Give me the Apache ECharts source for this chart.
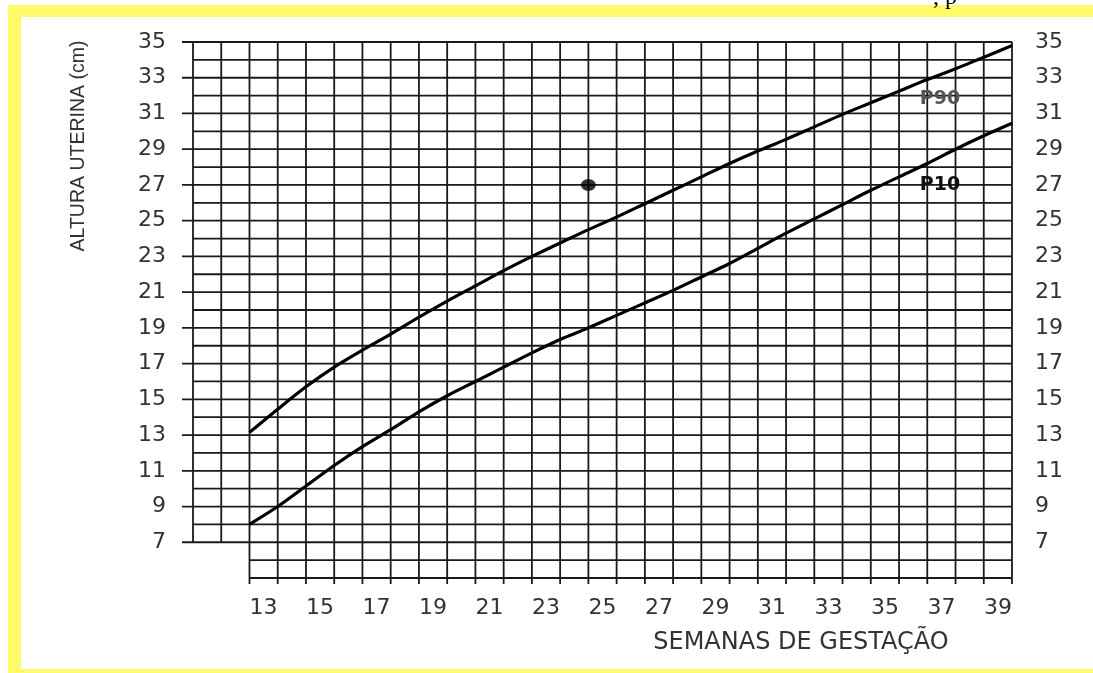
<!DOCTYPE html>
<html>
<head>
<meta charset="utf-8">
<script src="https://cdn.jsdelivr.net/npm/echarts@6/dist/echarts.min.js"></script>
<style>
  html, body { margin: 0; padding: 0; background: #ffffff; }
  #chart { width: 1093px; height: 673px; }
</style>
</head>
<body>
<div id="chart"></div>
<script>
// ---- data ----
const weekColumns = ['11','12','13','14','15','16','17','18','19','20','21','22','23','24','25',
                     '26','27','28','29','30','31','32','33','34','35','36','37','38','39'];
const xTickLabels = ['13','15','17','19','21','23','25','27','29','31','33','35','37','39'];
const yTickLabels = [7, 9, 11, 13, 15, 17, 19, 21, 23, 25, 27, 29, 31, 33, 35];

const weeks = [13, 14, 15, 16, 17, 18, 19, 20, 21, 22, 23, 24, 25, 26,
               27, 28, 29, 30, 31, 32, 33, 34, 35, 36, 37, 38, 39, 40];
const p90 = [13.15, 14.45, 15.7, 16.8, 17.75, 18.65, 19.6, 20.5, 21.35, 22.2, 23.0, 23.75, 24.5, 25.2,
             25.95, 26.7, 27.45, 28.2, 28.9, 29.55, 30.25, 30.95, 31.6, 32.25, 32.9, 33.5, 34.15, 34.8];
const p10 = [8.0, 9.0, 10.15, 11.3, 12.35, 13.3, 14.3, 15.2, 16.0, 16.8, 17.6, 18.35, 19.0, 19.7,
             20.4, 21.1, 21.85, 22.6, 23.45, 24.3, 25.1, 25.9, 26.7, 27.45, 28.2, 29.0, 29.75, 30.45];
const measureWeek = [25];
const measureHeight = [27];

const xTitle = 'SEMANAS DE GESTAÇÃO';
const yTitle = 'ALTURA UTERINA (cm)';

// ---- grid structure of the chart paper (axis extents) ----
const X_MIN = 11, X_MAX = 40, X_LOWSTART = 13;
const Y_MIN = 5, Y_MAX = 35, Y_LEFTSTART = 7;
const paperLines = [];
for (let y = Y_MIN; y <= Y_MAX; y++) paperLines.push([0, y, y >= Y_LEFTSTART ? X_MIN : X_LOWSTART, X_MAX]);
for (let x = X_MIN; x <= X_MAX; x++) paperLines.push([1, x, x >= X_LOWSTART ? Y_MIN : Y_LEFTSTART, Y_MAX]);

const tickFont = { color: '#333', fontSize: 22, fontFamily: 'DejaVu Sans' };
const chart = echarts.init(document.getElementById('chart'), null, { renderer: 'canvas' });

function renderPaper(params, api) {
  const o = api.value(0), at = api.value(1), a = api.value(2), b = api.value(3);
  let p1, p2;
  if (o === 0) {
    p1 = api.coord([a, at]); p2 = api.coord([b, at]);
    if (yTickLabels.indexOf(at) >= 0) p1[0] -= 11;
  } else {
    p1 = api.coord([at, a]); p2 = api.coord([at, b]);
    if (at >= X_LOWSTART) p1[1] += 6;
  }
  return {
    type: 'line',
    shape: { x1: p1[0], y1: p1[1], x2: p2[0], y2: p2[1] },
    style: { stroke: '#1a1a1a', lineWidth: 1.8 }
  };
}

const option = {
  backgroundColor: '#ffffff',
  animation: false,
  grid: { left: 193, right: 81, top: 42, bottom: 95 },
  xAxis: [
    {
      type: 'category', data: weekColumns, boundaryGap: true, position: 'bottom',
      axisLine: { show: false }, axisTick: { show: false }, splitLine: { show: false },
      axisLabel: Object.assign({
        interval: (i, v) => xTickLabels.indexOf(v) >= 0, margin: 19
      }, tickFont)
    },
    { type: 'value', min: X_MIN, max: X_MAX, show: false }
  ],
  yAxis: [
    {
      type: 'value', min: Y_MIN, max: Y_MAX, interval: 1, position: 'left',
      axisLine: { show: false }, axisTick: { show: false }, splitLine: { show: false },
      axisLabel: Object.assign({
        formatter: v => yTickLabels.indexOf(v) >= 0 ? String(v) : '', margin: 27
      }, tickFont)
    },
    {
      type: 'value', min: Y_MIN, max: Y_MAX, interval: 1, position: 'right',
      axisLine: { show: false }, axisTick: { show: false }, splitLine: { show: false },
      axisLabel: Object.assign({
        formatter: v => yTickLabels.indexOf(v) >= 0 ? String(v) : '', margin: 23
      }, tickFont)
    }
  ],
  series: [
    {
      type: 'custom', name: 'paper', xAxisIndex: 1, yAxisIndex: 0, z: 1,
      renderItem: renderPaper, data: paperLines, silent: true
    },
    {
      type: 'line', name: 'P90', xAxisIndex: 1, yAxisIndex: 0, z: 3,
      data: weeks.map((w, i) => [w, p90[i]]), smooth: 0.3, showSymbol: false,
      lineStyle: { color: '#000', width: 3.2 },
      markPoint: {
        symbol: 'circle', symbolSize: 0, silent: true,
        data: [{ coord: [37.45, 31.8] }],
        label: { show: true, position: 'inside', formatter: 'P90', color: '#555',
                 fontSize: 19, fontWeight: 'bold', fontFamily: 'DejaVu Sans' }
      }
    },
    {
      type: 'line', name: 'P10', xAxisIndex: 1, yAxisIndex: 0, z: 3,
      data: weeks.map((w, i) => [w, p10[i]]), smooth: 0.3, showSymbol: false,
      lineStyle: { color: '#000', width: 3.2 },
      markPoint: {
        symbol: 'circle', symbolSize: 0, silent: true,
        data: [{ coord: [37.45, 27.0] }],
        label: { show: true, position: 'inside', formatter: 'P10', color: '#111',
                 fontSize: 19, fontWeight: 'bold', fontFamily: 'DejaVu Sans' }
      }
    },
    {
      type: 'scatter', name: 'medida', xAxisIndex: 1, yAxisIndex: 0, z: 4,
      data: measureWeek.map((w, i) => [w, measureHeight[i]]),
      symbol: 'circle', symbolSize: [15, 12], itemStyle: { color: '#000' }
    }
  ],
  graphic: [
    { type: 'rect', shape: { x: 8, y: 5, width: 1085, height: 12 }, style: { fill: '#FFFA68' }, silent: true },
    { type: 'rect', shape: { x: 8, y: 5, width: 13, height: 668 }, style: { fill: '#FFFA68' }, silent: true },
    { type: 'rect', shape: { x: 8, y: 669, width: 1085, height: 4 }, style: { fill: '#FFFA68' }, silent: true },
    { type: 'text', x: 933, y: 10, silent: true,
      style: { text: ', p', fontSize: 24, fontFamily: 'Liberation Serif', fill: '#000', align: 'left', verticalAlign: 'bottom' } },
    { type: 'text', x: 79, y: 146, rotation: Math.PI / 2, silent: true,
      style: { text: yTitle, fontSize: 19.5, fontFamily: 'Liberation Sans', fill: '#333',
               align: 'center', verticalAlign: 'middle' } },
    { type: 'text', x: 801, y: 643, silent: true,
      style: { text: xTitle, fontSize: 24, fontFamily: 'DejaVu Sans', fill: '#333',
               align: 'center', verticalAlign: 'middle' } }
  ]
};
chart.setOption(option);
</script>
</body>
</html>
